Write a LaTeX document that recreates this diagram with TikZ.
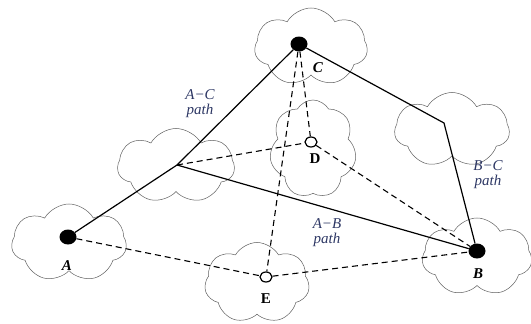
\documentclass[tikz,border=0pt]{standalone}
\usepackage{fontspec}
\setmainfont{Liberation Serif}
\usetikzlibrary{shapes.symbols,shapes.geometric}
\definecolor{pathblue}{RGB}{45,55,100}
\definecolor{cloudgray}{RGB}{95,95,95}
\tikzset{
 cloudbox/.style={cloud, cloud puffs=7, cloud puff arc=120, cloud ignores aspect, draw=cloudgray, line width=0.5pt, inner sep=0pt},
 fulldot/.style={ellipse, fill=black, minimum width=17pt, minimum height=15pt, inner sep=0pt},
 opendot/.style={ellipse, draw=black, fill=white, line width=1.2pt, minimum width=12pt, minimum height=10pt, inner sep=0pt},
 solidlink/.style={line width=1.2pt},
 dashlink/.style={line width=1.1pt, dash pattern=on 6pt off 4pt},
 pathlabel/.style={text=pathblue, font=\fontsize{15}{15}\selectfont\itshape, align=center, inner sep=0pt},
 ptlabel/.style={font=\fontsize{15}{15}\selectfont\bfseries, inner sep=0pt},
 ptitlabel/.style={font=\fontsize{15}{15}\selectfont\bfseries\itshape, inner sep=0pt}
}
\begin{document}
\begin{tikzpicture}[x=1pt,y=-1pt]
\useasboundingbox (0,0) rectangle (531,324);
% clouds
\node[cloudbox, minimum width=113pt, minimum height=78pt] (cloudC) at (311,47) {};
\node[cloudbox, minimum width=115pt, minimum height=75pt] (cloudK) at (452,130) {};
\node[cloudbox, minimum width=87pt, minimum height=98pt] (cloudD) at (313,149) {};
\node[cloudbox, minimum width=117pt, minimum height=75pt] (cloudJ) at (176,166) {};
\node[cloudbox, minimum width=115pt, minimum height=78pt] (cloudA) at (69,243) {};
\node[cloudbox, minimum width=105pt, minimum height=81pt] (cloudE) at (257,283) {};
\node[cloudbox, minimum width=110pt, minimum height=78pt] (cloudB) at (477,257) {};
% points
\coordinate (J) at (177,165);
\coordinate (K) at (444,123);
\node[fulldot] (A) at (68,237) {};
\node[fulldot] (B) at (477,251) {};
\node[fulldot] (C) at (299,44) {};
\node[opendot] (D) at (311,142) {};
\node[opendot] (E) at (266,277) {};
% solid paths
\draw[solidlink] (A) -- (J) -- (C);
\draw[solidlink] (J) -- (B);
\draw[solidlink] (C) -- (K) -- (B);
% dashed links
\draw[dashlink] (A) -- (E);
\draw[dashlink] (E) -- (B);
\draw[dashlink] (C) -- (E);
\draw[dashlink] (C) -- (D);
\draw[dashlink] (D) -- (B);
\draw[dashlink] (J) -- (D);
% labels
\node[ptitlabel] (labA) at (67,266) {A};
\node[ptitlabel] (labB) at (478,274) {B};
\node[ptitlabel] (labC) at (318,68) {C};
\node[ptlabel] (labD) at (315,159) {D};
\node[ptlabel] (labE) at (266,299) {E};
\node[pathlabel] (labAC) at (200,104) {A−C\\path};
\node[pathlabel] (labAB) at (327,233) {A−B\\path};
\node[pathlabel] (labBC) at (488,175) {B−C\\path};
\end{tikzpicture}
\end{document}
